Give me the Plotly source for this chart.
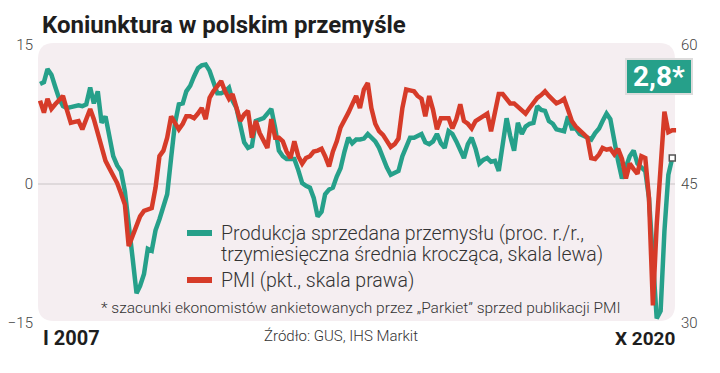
import pandas as pd
import plotly.graph_objects as go

# ---- data ----
months = pd.date_range("2007-01-01", "2020-10-01", freq="MS")

production_3mma = [
    10.8, 11.0, 12.4, 11.8, 10.5, 9.2, 8.4, 8.2, 8.3, 8.4, 8.5, 8.4,
    8.6, 10.4, 8.7, 10.0, 6.6, 7.3, 5.0, 3.0, 2.0, 1.4, -0.8, -4.0,
    -8.0, -11.8, -11.0, -9.7, -7.0, -7.2, -5.0, -3.8, -2.2, -1.1, 2.8, 6.5,
    8.6, 8.7, 10.0, 10.6, 11.6, 12.5, 12.8, 12.9, 12.2, 11.0, 9.8, 9.8,
    10.0, 10.4, 9.0, 8.2, 6.5, 4.5, 3.9, 4.1, 6.8, 7.0, 7.1, 7.6,
    8.1, 6.0, 3.6, 3.0, 2.7, 2.7, 2.7, 1.5, 0.1, -0.2, -0.4, -1.5,
    -3.5, -3.0, -1.1, -0.6, -0.4, 0.8, 1.7, 3.5, 5.0, 4.4, 4.8, 4.8,
    4.9, 5.4, 5.0, 4.6, 3.9, 2.8, 1.8, 1.0, 1.2, 1.4, 3.0, 4.0,
    5.0, 5.0, 5.2, 5.4, 4.5, 4.3, 4.6, 5.4, 4.4, 3.9, 5.7, 5.4,
    4.6, 3.8, 2.8, 4.3, 5.0, 3.8, 2.2, 2.6, 2.8, 2.4, 2.5, 1.4,
    4.6, 7.1, 5.2, 3.6, 6.6, 5.4, 6.2, 6.5, 6.6, 8.4, 8.0, 7.9,
    6.8, 6.5, 5.9, 5.8, 5.7, 7.3, 6.0, 6.0, 5.4, 5.2, 5.0, 4.8,
    5.5, 6.0, 6.8, 7.6, 7.0, 4.6, 2.5, 0.6, 2.0, 3.0, 3.6, 2.2,
    1.8, 1.4, -1.5, -8.3, -14.5, -13.7, -5.1, 1.0, 2.8,
]

pmi = [
    54.0, 52.7, 54.2, 53.1, 53.6, 54.0, 54.5, 53.0, 51.6, 51.7, 51.8, 50.9,
    52.0, 53.1, 52.0, 50.5, 49.0, 47.5, 46.7, 46.0, 45.1, 44.0, 42.8, 38.3,
    39.5, 40.5, 41.5, 42.1, 42.2, 42.4, 44.6, 48.0, 48.6, 50.0, 52.3, 51.5,
    50.9, 51.5, 52.3, 52.3, 52.1, 52.6, 53.2, 52.0, 54.3, 55.0, 55.6, 56.1,
    55.0, 54.2, 54.7, 53.4, 51.8, 52.5, 52.9, 50.0, 51.8, 50.5, 49.8, 48.9,
    52.0, 50.0, 50.0, 49.6, 48.5, 47.8, 49.6, 48.0, 47.2, 47.8, 48.0, 48.5,
    48.6, 48.8, 48.0, 46.9, 48.5, 49.6, 51.1, 51.8, 52.7, 53.6, 54.5, 53.2,
    55.2, 55.9, 53.2, 51.5, 50.7, 50.3, 49.6, 49.0, 49.3, 49.9, 53.2, 55.2,
    55.1, 55.0, 54.5, 54.2, 52.3, 54.5, 53.0, 50.9, 52.1, 52.1, 52.1, 51.0,
    52.0, 53.6, 51.8, 51.5, 51.0, 51.8, 52.1, 52.3, 52.6, 50.7, 52.5, 54.7,
    54.7, 54.2, 53.7, 53.7, 53.3, 52.9, 52.6, 53.2, 53.8, 54.3, 54.6, 55.0,
    54.5, 54.0, 53.7, 53.9, 54.2, 53.0, 51.8, 51.2, 50.7, 50.4, 50.0, 47.8,
    47.7, 48.2, 48.9, 48.7, 48.8, 48.2, 48.8, 47.7, 45.6, 47.2, 46.6, 46.1,
    48.0, 47.8, 43.5, 31.9, 40.6, 47.2, 52.8, 50.6, 50.8, 50.8,
]

left_ticks = [-15, 0, 15]
right_ticks = [30, 45, 60]
last_label = "2,8*"

title = "Koniunktura w polskim przemyśle"
legend_prod = ["Produkcja sprzedana przemysłu (proc. r./r.,",
               "trzymiesięczna średnia krocząca, skala lewa)"]
legend_pmi = "PMI (pkt., skala prawa)"
footnote = "* szacunki ekonomistów ankietowanych przez „Parkiet” sprzed publikacji PMI"
source = "Źródło: GUS, IHS Markit"
start_label, end_label = "I 2007", "X 2020"

GREEN = "#26a08a"
RED = "#d63b29"
FONT = "Roboto"

# ---- layout geometry (pixels) ----
W, H = 720, 373
L, R, T, B = 38, 40, 45, 50
PW, PH = W - L - R, H - T - B


def px(x):
    return (x - L) / PW


def py(y):
    return (H - B - y) / PH


fig = go.Figure()
fig.add_trace(go.Scatter(
    x=months[:len(production_3mma)], y=production_3mma, mode="lines",
    line=dict(color=GREEN, width=4.5), yaxis="y", cliponaxis=False,
    hoverinfo="skip", showlegend=False))
fig.add_trace(go.Scatter(
    x=months[:len(pmi)], y=pmi, mode="lines",
    line=dict(color=RED, width=4.5), yaxis="y2", cliponaxis=False,
    hoverinfo="skip", showlegend=False))
fig.add_trace(go.Scatter(
    x=[months[len(production_3mma) - 1]], y=[production_3mma[-1]], mode="markers",
    marker=dict(symbol="square", size=6, color="white", line=dict(color="#555", width=1.5)),
    yaxis="y", cliponaxis=False, hoverinfo="skip", showlegend=False))

# background rounded rectangle
x0, x1 = px(38), px(675)
y0, y1 = py(321), py(43)
rx, ry = 16 / PW, 16 / PH
path = (f"M {x0+rx},{y0} L {x1-rx},{y0} Q {x1},{y0} {x1},{y0+ry} "
        f"L {x1},{y1-ry} Q {x1},{y1} {x1-rx},{y1} L {x0+rx},{y1} "
        f"Q {x0},{y1} {x0},{y1-ry} L {x0},{y0+ry} Q {x0},{y0} {x0+rx},{y0} Z")
shapes = [
    dict(type="path", path=path, xref="paper", yref="paper",
         fillcolor="#f5eef1", line=dict(width=0), layer="below"),
    dict(type="line", xref="paper", yref="y", x0=x0, x1=x1, y0=0, y1=0,
         line=dict(color="#c9c4c6", width=1), layer="below"),
    dict(type="line", xref="paper", yref="paper", x0=px(187), x1=px(212),
         y0=py(233), y1=py(233), line=dict(color=GREEN, width=6)),
    dict(type="line", xref="paper", yref="paper", x0=px(187), x1=px(212),
         y0=py(280), y1=py(280), line=dict(color=RED, width=6)),
]


def ann(text, x, y, size, xanchor="left", color="#333", weight="normal", **kw):
    return dict(text=text, x=px(x), y=py(y), xref="paper", yref="paper",
                xanchor=xanchor, yanchor="middle", showarrow=False,
                font=dict(family=FONT, size=size, color=color, weight=weight), **kw)


annotations = [
    ann(title, 40, 25, 24, color="#1e1e1e", weight="bold"),
    ann(legend_prod[0], 219, 233, 19.5, weight=300),
    ann(legend_prod[1], 219, 254, 19.5, weight=300),
    ann(legend_pmi, 219, 280, 19.5, weight=300),
    ann(footnote, 361, 308, 15.5, xanchor="center", weight=300),
    ann(source, 262, 336, 15, weight=300),
    ann(start_label, 41, 338, 20, color="#1e1e1e", weight="bold"),
    ann(end_label, 677, 338, 19, xanchor="right", color="#1e1e1e", weight="bold"),
    ann(last_label, 659, 77, 28, xanchor="center", color="white", weight="bold",
        bgcolor=GREEN, bordercolor="#dcdcdc", borderwidth=2, borderpad=0,
        width=64, height=33, valign="middle"),
]

x_left = pd.Timestamp("2006-12-16")
x_right = pd.Timestamp("2020-11-01")

fig.update_layout(
    width=W, height=H,
    margin=dict(l=L, r=R, t=T, b=B, autoexpand=False),
    paper_bgcolor="white", plot_bgcolor="rgba(0,0,0,0)",
    xaxis=dict(range=[x_left, x_right], showgrid=False, zeroline=False,
               showticklabels=False, showline=False, fixedrange=True, automargin=False),
    yaxis=dict(range=[-15, 15], tickvals=left_ticks, showgrid=False, zeroline=False,
               tickfont=dict(family=FONT, size=15, color="#444", weight=300),
               ticklabelstandoff=4, fixedrange=True, automargin=False),
    yaxis2=dict(range=[30, 60], tickvals=right_ticks, overlaying="y", side="right",
                showgrid=False, zeroline=False,
                tickfont=dict(family=FONT, size=15, color="#444", weight=300),
                fixedrange=True, automargin=False),
    shapes=shapes, annotations=annotations, showlegend=False,
)

fig.write_html("out.html", config=dict(displayModeBar=False),
               post_script="document.body.style.margin='0';document.body.style.overflow='hidden';")
